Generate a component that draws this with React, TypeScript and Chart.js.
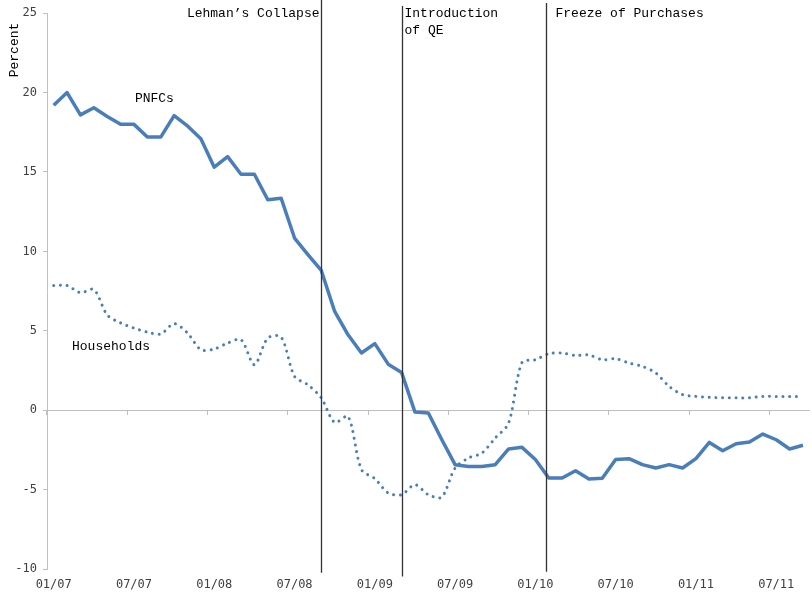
import React, { useEffect, useRef } from "react";
import { Chart, registerables } from "chart.js";

Chart.register(...registerables);

const months = [
  "01/07", "02/07", "03/07", "04/07", "05/07", "06/07", "07/07", "08/07", "09/07", "10/07", "11/07", "12/07",
  "01/08", "02/08", "03/08", "04/08", "05/08", "06/08", "07/08", "08/08", "09/08", "10/08", "11/08", "12/08",
  "01/09", "02/09", "03/09", "04/09", "05/09", "06/09", "07/09", "08/09", "09/09", "10/09", "11/09", "12/09",
  "01/10", "02/10", "03/10", "04/10", "05/10", "06/10", "07/10", "08/10", "09/10", "10/10", "11/10", "12/10",
  "01/11", "02/11", "03/11", "04/11", "05/11", "06/11", "07/11", "08/11", "09/11",
];

const pnfcs = [
  19.2, 20.0, 18.6, 19.05, 18.5, 18.0, 18.0, 17.2, 17.2, 18.55, 17.9, 17.1,
  15.3, 15.97, 14.86, 14.86, 13.25, 13.35, 10.84, 9.8, 8.8, 6.22, 4.75, 3.6,
  4.19, 2.9, 2.38, -0.12, -0.18, -1.84, -3.43, -3.54, -3.54, -3.43, -2.44, -2.34,
  -3.1, -4.27, -4.27, -3.81, -4.33, -4.29, -3.11, -3.05, -3.43, -3.64, -3.43, -3.64,
  -3.05, -2.03, -2.55, -2.11, -2.0, -1.5, -1.86, -2.44, -2.21,
];

const households = [
  7.85, 7.85, 7.4, 7.6, 6.0, 5.5, 5.17, 4.92, 4.8, 5.45, 4.86, 3.81,
  3.85, 4.23, 4.44, 2.86, 4.54, 4.6, 2.13, 1.6, 0.77, -0.77, -0.39, -3.74,
  -4.31, -5.21, -5.32, -4.69, -5.32, -5.47, -3.64, -3.01, -2.7, -1.75, -0.81, 3.01,
  3.18, 3.56, 3.6, 3.45, 3.48, 3.18, 3.24, 2.97, 2.76, 2.34, 1.5, 0.98,
  0.87, 0.81, 0.78, 0.78, 0.78, 0.87, 0.87, 0.87, 0.87,
];

const yMin = -10;
const yMax = 25;
const yStep = 5;
const labelEvery = 6;

const eventNames = [["Lehman\u2019s Collapse"], ["Introduction", "of QE"], ["Freeze of Purchases"]];
const eventIndex = [20, 26, 36.8];

const BLUE = "#4a7ebb";
const ANNOT_FONT = '13px "Liberation Mono", "Courier New", monospace';
const TICK_FONT_FAMILY = '"DejaVu Sans Mono", monospace';

function xAt(scale: any, v: number) {
  const i0 = Math.floor(v);
  const f = v - i0;
  const p0 = scale.getPixelForValue(i0);
  const p1 = scale.getPixelForValue(i0 + 1);
  return p0 + f * (p1 - p0);
}

const annotationPlugin = {
  id: "annotations",
  afterDatasetsDraw(chart: any) {
    const { ctx, scales } = chart;
    const xs = scales.x;
    const ys = scales.y;
    ctx.save();
    // event lines
    const lineSpans = [
      [25.84, -10.23],
      [25.46, -10.48],
      [25.65, -10.17],
    ];
    const textOffsets = [-2, 2, 9];
    eventIndex.forEach((ev, k) => {
      const x = Math.round(xAt(xs, ev)) + 0.5;
      ctx.beginPath();
      ctx.strokeStyle = "#333333";
      ctx.lineWidth = 1.3;
      ctx.moveTo(x, ys.getPixelForValue(lineSpans[k][0]));
      ctx.lineTo(x, ys.getPixelForValue(lineSpans[k][1]));
      ctx.stroke();
      ctx.font = ANNOT_FONT;
      ctx.fillStyle = "#000000";
      ctx.textBaseline = "middle";
      ctx.textAlign = textOffsets[k] < 0 ? "right" : "left";
      eventNames[k].forEach((line, j) => {
        ctx.fillText(line, x + textOffsets[k], 14 + j * 17);
      });
    });
    // series labels
    ctx.font = ANNOT_FONT;
    ctx.fillStyle = "#000000";
    ctx.textAlign = "left";
    ctx.textBaseline = "middle";
    ctx.fillText("PNFCs", xAt(xs, 6.07), ys.getPixelForValue(19.6));
    ctx.fillText("Households", xAt(xs, 1.37), ys.getPixelForValue(4.0));
    // y title
    ctx.translate(15, 50);
    ctx.rotate(-Math.PI / 2);
    ctx.textAlign = "center";
    ctx.fillText("Percent", 0, 0);
    ctx.restore();
  },
};

export default function App() {
  const ref = useRef<HTMLCanvasElement | null>(null);
  useEffect(() => {
    document.body.style.margin = "0";
    if (!ref.current) return;
    const chart = new Chart(ref.current, {
      type: "line",
      data: {
        labels: months,
        datasets: [
          {
            label: "Households",
            data: households,
            borderColor: BLUE,
            borderWidth: 3,
            borderDash: [0.01, 6.7],
            borderCapStyle: "round",
            pointRadius: 0,
            tension: 0.3,
            fill: false,
          },
          {
            label: "PNFCs",
            data: pnfcs,
            borderColor: BLUE,
            borderWidth: 3.5,
            borderJoinStyle: "round",
            pointRadius: 0,
            tension: 0,
            fill: false,
          },
        ],
      },
      options: {
        animation: false,
        responsive: false,
        devicePixelRatio: 1,
        layout: { padding: { left: 0, top: 13, right: 2, bottom: 0 } },
        plugins: {
          legend: { display: false },
          tooltip: { enabled: false },
          title: { display: false },
        },
        scales: {
          x: {
            type: "category",
            position: "bottom",
            offset: true,
            grid: { display: false, drawTicks: false },
            border: { display: false },
            ticks: {
              autoSkip: false,
              maxRotation: 0,
              minRotation: 0,
              padding: 9,
              color: "#404040",
              font: { family: TICK_FONT_FAMILY, size: 12 },
              callback: (_v: any, i: number) => (i % labelEvery === 0 ? months[i] : ""),
            },
            afterFit: (s: any) => {
              s.height = 27;
            },
          },
          x2: {
            type: "category",
            position: { y: 0 },
            offset: true,
            grid: {
              offset: true,
              drawOnChartArea: false,
              drawTicks: true,
              tickLength: 4,
              lineWidth: 1,
              color: (c: any) => (c.index % labelEvery === 0 ? "#bfbfbf" : "rgba(0,0,0,0)"),
            },
            border: { display: true, color: "#bfbfbf", width: 1 },
            ticks: { display: false, autoSkip: false },
          },
          y: {
            min: yMin,
            max: yMax,
            grid: {
              drawOnChartArea: false,
              drawTicks: true,
              tickLength: 4,
              color: "#bfbfbf",
            },
            border: { display: true, color: "#bfbfbf", width: 1 },
            ticks: {
              stepSize: yStep,
              padding: 6,
              color: "#404040",
              font: { family: TICK_FONT_FAMILY, size: 12 },
            },
            afterFit: (s: any) => {
              s.width = 47;
            },
          },
        },
      },
      plugins: [annotationPlugin],
    });
    return () => chart.destroy();
  }, []);
  return <canvas ref={ref} width={812} height={596} style={{ display: "block" }} />;
}
